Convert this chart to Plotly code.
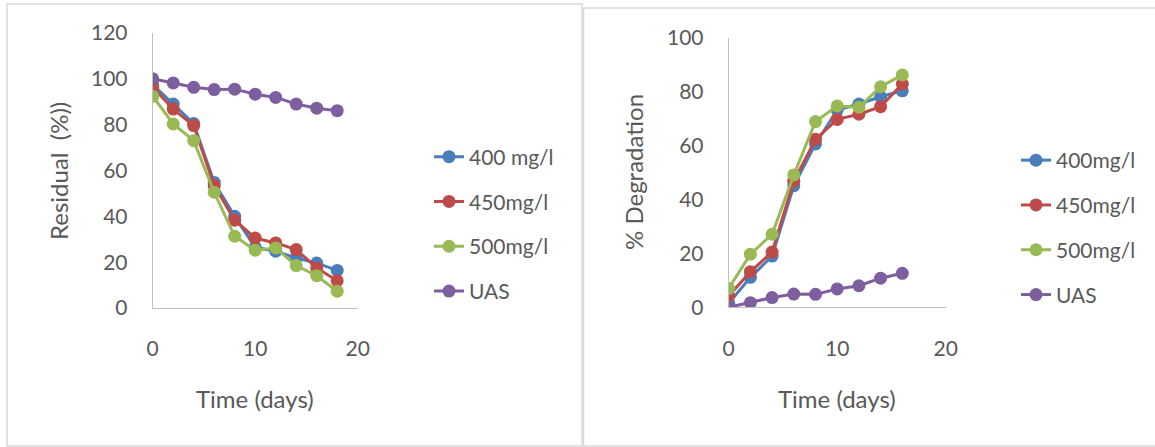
import plotly.graph_objects as go

# ---- data ----
days_left = [0, 2, 4, 6, 8, 10, 12, 14, 16, 18]
res_400 = [97.5, 89, 80.5, 54.8, 40, 26.5, 24.8, 21.8, 19.6, 16.4]
res_450 = [96.4, 86.8, 79.6, 53.4, 38.3, 30.5, 28.4, 25.5, 17.5, 11.9]
res_500 = [92.4, 80.3, 73, 50.5, 31.3, 25.2, 26.2, 18.5, 14.1, 7.3]
res_uas = [100, 98.2, 96.3, 95.3, 95.5, 93.3, 91.9, 89, 87.2, 86.1]

days_right = [0, 2, 4, 6, 8, 10, 12, 14, 16]
deg_400 = [1.5, 11.1, 19.0, 45.1, 60.6, 73.2, 75.4, 78.1, 80.3]
deg_450 = [4.2, 13.2, 20.5, 46.8, 62.3, 69.7, 71.6, 74.4, 82.8]
deg_500 = [7.0, 19.7, 27.1, 49.1, 68.9, 74.7, 74.2, 81.8, 86.2]
deg_uas = [0, 1.7, 3.6, 4.9, 4.8, 6.8, 8.0, 10.8, 12.6]

left_names = ["400 mg/l", "450mg/l", "500mg/l", "UAS"]
right_names = ["400mg/l", "450mg/l", "500mg/l", "UAS"]
colors = ["#4A7EBB", "#BE4B48", "#98B954", "#7D5FA0"]

W, H = 1155, 447
FONT = "Lato"
TXT = "#595959"
AX = "#BFBFBF"
TICK_SIZE = 21
TITLE_SIZE = 24

fig = go.Figure()

for name, ys, c in zip(left_names, [res_400, res_450, res_500, res_uas], colors):
    fig.add_trace(go.Scatter(x=days_left, y=ys, name=name, mode="lines+markers",
                             line=dict(color=c, width=3), marker=dict(color=c, size=13),
                             xaxis="x", yaxis="y", legend="legend", legendgroup="L" + name))
for name, ys, c in zip(right_names, [deg_400, deg_450, deg_500, deg_uas], colors):
    fig.add_trace(go.Scatter(x=days_right, y=ys, name=name, mode="lines+markers",
                             line=dict(color=c, width=3), marker=dict(color=c, size=13),
                             xaxis="x2", yaxis="y2", legend="legend2", legendgroup="R" + name))

def px(v):
    return v / W

def py(v):
    return 1 - v / H

axcommon = dict(showgrid=False, zeroline=False, showline=True, linecolor=AX, linewidth=1,
                ticks="", tickfont=dict(family=FONT, size=TICK_SIZE, color=TXT), fixedrange=True)

fig.update_layout(
    width=W, height=H, margin=dict(l=0, r=0, t=0, b=0, pad=0, autoexpand=False),
    paper_bgcolor="white", plot_bgcolor="white",
    font=dict(family=FONT, color=TXT, size=TICK_SIZE),
    xaxis=dict(domain=[px(152.7), px(357.7)], range=[0, 20], dtick=10, anchor="y",
               ticklabelstandoff=22, **axcommon),
    yaxis=dict(domain=[py(308), py(33)], range=[0, 120], dtick=20, anchor="x",
               ticklabelstandoff=20, **axcommon),
    xaxis2=dict(domain=[px(728.7), px(945.7)], range=[0, 20], dtick=10, anchor="y2",
                ticklabelstandoff=22, **axcommon),
    yaxis2=dict(domain=[py(307.3), py(37.7)], range=[0, 100], dtick=20, anchor="x2",
                ticklabelstandoff=20, **axcommon),
    legend=dict(x=px(429), y=py(136.5), xanchor="left", yanchor="top",
                font=dict(family=FONT, size=TICK_SIZE, color=TXT), tracegroupgap=14.5,
                bgcolor="rgba(0,0,0,0)"),
    legend2=dict(x=px(1016), y=py(140), xanchor="left", yanchor="top",
                 font=dict(family=FONT, size=TICK_SIZE, color=TXT), tracegroupgap=14.5,
                 bgcolor="rgba(0,0,0,0)"),
    showlegend=True,
)

# chart borders
fig.add_shape(type="rect", xref="paper", yref="paper", x0=px(7), x1=px(582), y0=py(446), y1=py(4),
              line=dict(color="#D9D9D9", width=1.5), fillcolor="rgba(0,0,0,0)", layer="below")
fig.add_shape(type="rect", xref="paper", yref="paper", x0=px(583.5), x1=px(1160), y0=py(446), y1=py(8),
              line=dict(color="#D9D9D9", width=1.5), fillcolor="rgba(0,0,0,0)", layer="below")

# axis titles
ann = dict(xref="paper", yref="paper", showarrow=False, xanchor="center", yanchor="middle",
           font=dict(family=FONT, size=TITLE_SIZE, color=TXT))
fig.add_annotation(text="Residual  (%))", x=px(58), y=py(171), textangle=-90, **ann)
fig.add_annotation(text="Time (days)", x=px(255), y=py(398), **ann)
fig.add_annotation(text="% Degradation", x=px(633), y=py(172), textangle=-90, **ann)
fig.add_annotation(text="Time (days)", x=px(836.7), y=py(398), **ann)

fig.write_html("out.html")
